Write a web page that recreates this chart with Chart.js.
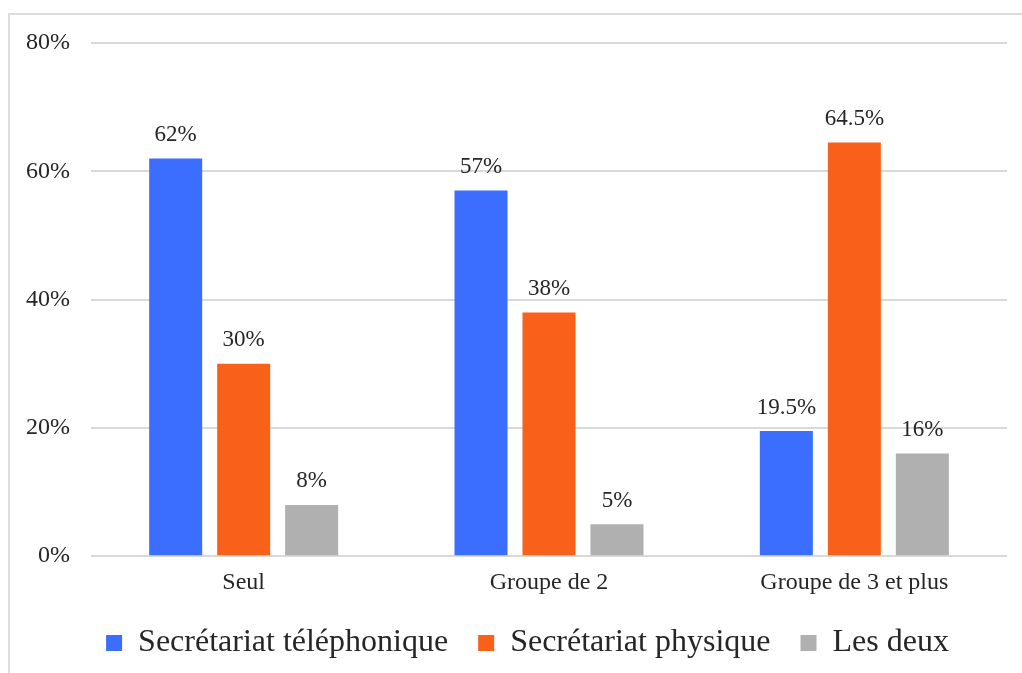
<!DOCTYPE html>
<html>
<head>
<meta charset="utf-8">
<script src="https://cdn.jsdelivr.net/npm/chart.js@4.4.1/dist/chart.umd.min.js"></script>
<style>
  html, body { margin: 0; padding: 0; background: #fff; overflow: hidden; }
  #frame { position: absolute; left: 8px; top: 13px; width: 1100px; height: 700px; border: 2px solid #dcdcdc; box-sizing: border-box; }
  #wrap { position: absolute; left: 0; top: 0; width: 1022px; height: 673px; }
</style>
</head>
<body>
<div id="frame"></div>
<div id="wrap"><canvas id="c" width="1022" height="673"></canvas></div>
<script>
const categories = ["Seul", "Groupe de 2", "Groupe de 3 et plus"];
const seriesNames = ["Secrétariat téléphonique", "Secrétariat physique", "Les deux"];
const telephonique = [62, 57, 19.5];
const physique = [30, 38, 64.5];
const lesDeux = [8, 5, 16];
const yTicks = [0, 20, 40, 60, 80];

const colors = ["#3b6eff", "#f9611a", "#b0b0b0"];
const FONT = "'Liberation Serif', 'Times New Roman', serif";

const labelPlugin = {
  id: 'barLabels',
  afterLayout(chart) {
    if (chart.legend) { chart.legend.left += 24; chart.legend.right += 24; }
  },
  afterDatasetsDraw(chart) {
    const ctx = chart.ctx;
    ctx.save();
    ctx.font = "23px " + FONT;
    ctx.fillStyle = "#262626";
    ctx.textAlign = "center";
    ctx.textBaseline = "bottom";
    chart.data.datasets.forEach((ds, i) => {
      const meta = chart.getDatasetMeta(i);
      meta.data.forEach((bar, j) => {
        ctx.fillText(ds.data[j] + "%", bar.x, bar.y - 12);
      });
    });
    ctx.restore();
  }
};

new Chart(document.getElementById('c'), {
  type: 'bar',
  data: {
    labels: categories,
    datasets: [
      { label: seriesNames[0], data: telephonique, backgroundColor: colors[0] },
      { label: seriesNames[1], data: physique, backgroundColor: colors[1] },
      { label: seriesNames[2], data: lesDeux, backgroundColor: colors[2] }
    ]
  },
  options: {
    responsive: false,
    animation: false,
    devicePixelRatio: 1,
    categoryPercentage: 0.668,
    barPercentage: 0.78,
    layout: { padding: { left: 0, right: 15, top: 43, bottom: 4 } },
    plugins: {
      tooltip: { enabled: false },
      legend: {
        position: 'bottom',
        labels: {
          font: { family: FONT, size: 32 },
          color: "#262626",
          boxWidth: 16,
          boxHeight: 16,
          padding: 30
        }
      }
    },
    scales: {
      x: {
        grid: { display: false, drawTicks: false },
        border: { display: false },
        afterFit(scale) { scale.height -= 12; },
        ticks: { font: { family: FONT, size: 24 }, color: "#262626", padding: 12 }
      },
      y: {
        min: 0, max: 80,
        afterBuildTicks(scale) { scale.ticks = yTicks.map(v => ({ value: v })); },
        afterFit(scale) { scale.width = 91; },
        grid: { color: "#d9d9d9", lineWidth: 2, drawTicks: false },
        border: { display: false },
        ticks: { font: { family: FONT, size: 24 }, color: "#262626", padding: 21, callback: v => v + "%" }
      }
    }
  },
  plugins: [labelPlugin]
});
</script>
</body>
</html>
